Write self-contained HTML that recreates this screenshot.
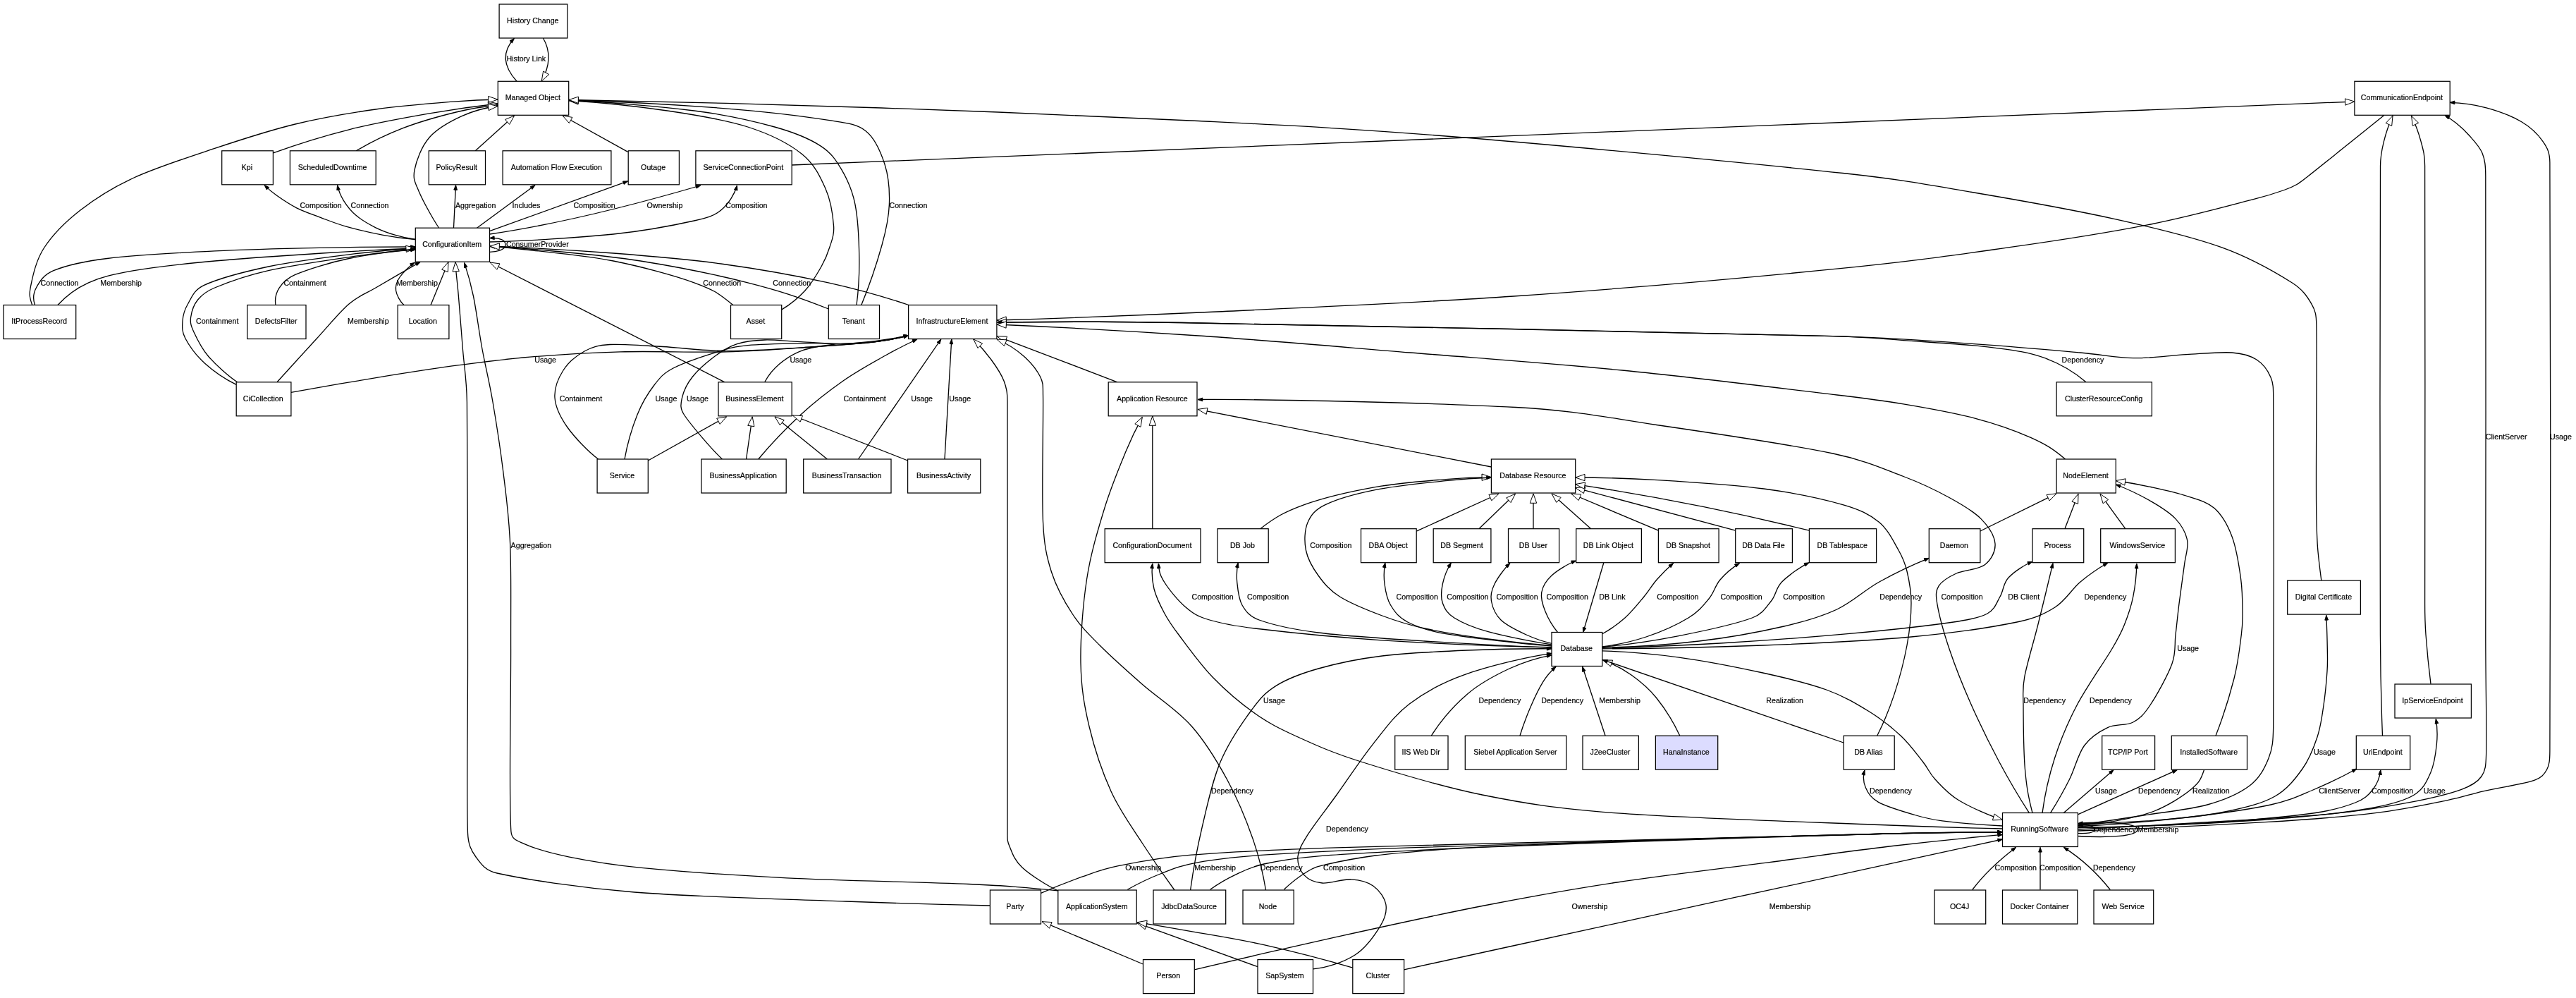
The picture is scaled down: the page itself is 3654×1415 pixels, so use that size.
<!DOCTYPE html><html><head><meta charset="utf-8"><title>Class Model</title><style>html,body{margin:0;padding:0;background:#fff}svg{display:block}text{font-family:"Liberation Sans",sans-serif;font-size:10.67px;fill:#000;stroke:#000;stroke-width:0.2px}</style></head><body>
<svg width="3654" height="1415" viewBox="0 0 3654 1415">
<rect width="3654" height="1415" fill="#fff"/>
<g fill="none" stroke="#000" stroke-width="1.3">
<path d="M45.7,432.5C41.5,420.6 41.2,416.9 43.8,404.6C46.6,391 51.1,368.8 62.8,351C74.5,333.2 92.8,314.5 114,298C135.2,281.5 158.2,266.6 190,252C221.8,237.4 266.5,223.1 304.6,210.4C342.7,197.7 380.7,185.2 418.8,176C456.9,166.8 495,160.4 533,155C571,149.6 618.2,146.1 647,143.8C673.5,141.7 679.4,141.4 706,141"/>
<polygon points="706,141 692.7,145.9 692.6,136.5" fill="#fff" stroke-width="1"/>
<path d="M387.6,216.9C423.4,203.8 458.1,193.1 495,183.8C531.9,174.5 573.8,167 609,160.9C644.2,154.8 670.5,151 706,147"/>
<polygon points="706,147 693.3,153.1 692.2,143.9" fill="#fff" stroke-width="1"/>
<path d="M505,214C526.8,201 547.3,191.1 571,181.9C594.7,172.7 624.5,164.5 647,159C669.5,153.5 682.9,151.2 706,149"/>
<polygon points="706,149 693.2,154.9 692.3,145.6" fill="#fff" stroke-width="1"/>
<path d="M622.5,323C614.1,310.8 599.8,284.7 594,271C588.7,258.3 585.5,253.7 588,241C590.5,228.3 597.8,207.7 609,195C620.2,182.3 638.8,172.1 655,164.7C671.2,157.3 688.3,152.5 706,150.5"/>
<polygon points="706,150.5 693.3,156.6 692.2,147.4" fill="#fff" stroke-width="1"/>
<path d="M674,214L729.5,164"/>
<polygon points="729.5,164 722.7,176.4 716.5,169.5" fill="#fff" stroke-width="1"/>
<path d="M890.6,215.4L798,164"/>
<polygon points="798,164 811.9,166.4 807.4,174.5" fill="#fff" stroke-width="1"/>
<path d="M1109,438.9C1120.8,431.8 1132.7,422.1 1142,412C1151.3,401.9 1159.2,388.3 1165,378C1170.8,367.7 1174.1,359.5 1177,350C1179.9,340.5 1183.6,334.1 1182.6,320.8C1181.6,307.1 1178.6,284.6 1171,267.5C1163.4,250.4 1155.4,232.6 1137,218C1118.6,203.4 1092.5,190.2 1060.7,180C1029,169.8 988.8,163.2 946.5,157C904.2,150.8 849.7,145.1 807,142.5"/>
<polygon points="807,142.5 820.6,138.6 820,148" fill="#fff" stroke-width="1"/>
<path d="M1215,432.5C1218.1,408.9 1219.1,390.2 1218.8,366.5C1218.5,342.8 1217.1,310.9 1213,290C1208.9,269.1 1202.2,254.8 1194,240.9C1185.8,227 1179.4,216.8 1163.5,206.6C1147.6,196.4 1128.6,188.3 1098.8,180C1069,171.7 1033.2,163.2 984.6,157C936,150.8 856,144.2 807,142.5"/>
<polygon points="807,142.5 820.5,138.3 820.2,147.6" fill="#fff" stroke-width="1"/>
<path d="M1221.8,432.5C1231.2,409.7 1244.4,371.2 1251,347.5C1257.6,323.8 1260.7,309.1 1261.4,290C1262.1,270.9 1260.6,250.4 1255,233C1249.4,215.6 1241.3,196.1 1228,185.7C1214.7,175.3 1199.5,174.3 1175,170.4C1140.8,165 1084,158 1022.7,153.3C961.4,148.6 868.5,143.7 807,142"/>
<polygon points="807,142 813.7,139.9 813.6,144.5" fill="#000" stroke-width="1"/>
<path d="M3292.8,822.8C3287.3,781.3 3286.6,771.9 3285.8,730C3284.6,669.5 3287,509.9 3285.8,460C3285.5,446.5 3284.6,440.7 3278.8,430.8C3273,420.9 3266.6,410.6 3251,400.8C3229.7,387.4 3192.8,365.7 3151,350.7C3109.2,335.7 3058.5,323.6 3000,310.6C2941.5,297.7 2864.3,283.9 2800,273C2735.7,262.1 2698.1,254.5 2614,245.5C2492.3,232.4 2222.3,206.8 2070,194.5C1917.7,182.2 1836.7,178.4 1700,171.5C1563.3,164.6 1398.8,158 1250,153C1101.2,148 955.9,144.2 807,141.5"/>
<polygon points="807,141.5 820.4,137.1 820.2,146.4" fill="#fff" stroke-width="1"/>
<path d="M1123.2,234L3339.9,144"/>
<polygon points="3339.9,144 3326.8,149.2 3326.4,139.9" fill="#fff" stroke-width="1"/>
<path d="M3381.7,163.4C3364,177.7 3338.1,198.5 3320.3,212.8C3302.5,227.1 3285.4,240.9 3275,249C3267.5,254.8 3263.8,258.1 3258,261.5C3252.2,264.9 3248.4,266.6 3240,269.5C3230.3,272.9 3218.2,277 3200,281.7C3168.5,289.8 3109.2,306.5 3050.9,318C2992.7,329.5 2925.7,340.1 2850.5,350.7C2775.3,361.3 2713,370.6 2600,381.7C2482.8,393.2 2294.7,409.9 2147,420C1999.3,430.1 1836.2,436.8 1714,442.5C1591.8,448.2 1536.2,450.3 1414,454"/>
<polygon points="1414,454 1427.2,448.9 1427.5,458.3" fill="#fff" stroke-width="1"/>
<path d="M2947.3,1170C2978,1165.6 3010.1,1160.8 3040.7,1156C3071.3,1151.2 3105.9,1148 3131,1141C3156.1,1134 3176.5,1125 3191,1114C3205.5,1103 3212.4,1089 3218,1075C3223.6,1061 3224.4,1050.5 3224.7,1030C3225.8,945 3225.3,647.5 3224.7,565C3224.6,551.4 3224.9,544.2 3221,535C3217.1,525.8 3210.2,515.8 3201,510C3191.8,504.2 3182.3,501.2 3166,500C3149.3,498.8 3124.4,501.4 3101,502.7C3077.6,504 3050.9,508.1 3025.8,507.7C3000.8,507.2 2984.5,503 2950.7,500C2913.1,496.6 2858.4,491.5 2800,487.6C2741.6,483.7 2690.1,479 2600,476.6C2416.7,471.7 1897.7,461.3 1700,458C1571.3,455.9 1542.7,455.8 1414,457"/>
<polygon points="1414,457 1427.3,452.2 1427.4,461.5" fill="#fff" stroke-width="1"/>
<path d="M2959,541.7C2940.9,526.4 2922.9,515.9 2900.6,507.7C2878.3,499.5 2858.8,496.8 2825.4,492.6C2792,488.4 2737.6,485.3 2700,482.6C2662.4,479.9 2645.1,477.7 2600,476.6C2433.3,472.5 1897.7,461.3 1700,458C1571.3,455.9 1542.7,455.8 1414,457"/>
<polygon points="1414,457 1420.6,454.6 1420.7,459.3" fill="#000" stroke-width="1"/>
<path d="M2929.6,651C2911.4,635.9 2902,630.1 2880.5,620.4C2859,610.7 2830.5,600.7 2800.4,592.8C2770.3,584.9 2733.4,578.4 2700,572.8C2666.6,567.2 2645.1,564.7 2600,559.3C2533.5,551.3 2400.9,534.9 2301,525C2201.1,515.1 2100.9,508.2 2000.7,500C1900.5,491.8 1797.8,482.7 1700,476C1602.2,469.3 1511.9,464.3 1414,460"/>
<polygon points="1414,460 1427.5,455.9 1427.1,465.2" fill="#fff" stroke-width="1"/>
<path d="M1585,541.8L1414.5,476.8"/>
<polygon points="1414.5,476.8 1428.6,477.2 1425.3,485.9" fill="#fff" stroke-width="1"/>
<path d="M589.3,339.5C572.7,338.2 559.9,336.5 543.5,333.4C527.1,330.3 505.5,325.2 490.9,321.1C476.3,317 467.5,313.2 455.8,308.8C444.1,304.4 431.3,300.1 420.8,294.8C410.3,289.6 400.3,282.7 392.7,277.3C385.1,271.9 381.8,269.2 375.2,262.6"/>
<polygon points="375.2,262.6 381.6,265.6 378.3,269" fill="#000" stroke-width="1"/>
<path d="M589.3,339.5C579.6,338.2 570.4,336.2 561,333.4C551.6,330.6 542.3,327.5 533,322.8C523.7,318.1 512.6,311.7 505,305.3C497.4,298.9 491.8,291.4 487.4,284.3C483,277.2 480.4,270.8 478.6,262.6"/>
<polygon points="478.6,262.6 482.3,268.6 477.8,269.6" fill="#000" stroke-width="1"/>
<path d="M643.5,323L646.5,262.6"/>
<polygon points="646.5,262.6 648.5,269.4 643.8,269.1" fill="#000" stroke-width="1"/>
<path d="M676.5,323.2L759,262.6"/>
<polygon points="759,262.6 755,268.4 752.2,264.7" fill="#000" stroke-width="1"/>
<path d="M694.5,327.7L890.6,256.9"/>
<polygon points="890.6,256.9 885.1,261.4 883.5,257" fill="#000" stroke-width="1"/>
<path d="M694.5,332Q819.9,313.7 993.7,263"/>
<polygon points="993.7,263 988,267.1 986.6,262.6" fill="#000" stroke-width="1"/>
<path d="M694.5,343C743.1,341.9 821.6,337 870,332C918.4,327 959.1,318.7 984.6,313C1002.6,309 1012.6,306.3 1022.7,298C1032.9,289.7 1042,275.7 1045.5,263"/>
<polygon points="1045.5,263 1046,270.1 1041.5,268.8" fill="#000" stroke-width="1"/>
<path d="M49.5,432.5C46.4,423.8 47,416.1 51.4,408C55.8,399.9 61.6,389.6 76,383.7C92.8,376.8 117.2,370.7 152,366.5C190.1,361.9 253.8,358.4 304.6,355.9C355.4,353.4 409.6,352.3 457,351.3C504.4,350.3 541.8,349.9 589.3,350"/>
<polygon points="589.3,350 582.6,352.3 582.6,347.7" fill="#000" stroke-width="1"/>
<path d="M81.9,432.5C95.2,417.9 107.6,408.9 125.6,400.8C143.6,392.7 160.5,388.8 190,383.7C219.8,378.6 260.1,374.1 304.6,370C349.1,365.9 409.6,362 457,359C504.4,356 541.8,354 589.3,352"/>
<polygon points="589.3,352 582.7,354.6 582.5,350" fill="#000" stroke-width="1"/>
<path d="M335.2,545.3C320.6,538.2 302.6,526.1 290.6,515.2C278.6,504.3 268.3,490 263,480C257.7,470 258.4,463.2 259,455C259.6,446.8 261.5,439.4 266.5,431C271.5,422.6 274.8,411.2 289,404.6C308,395.8 346.4,385.3 380.7,378C415,370.7 460.2,365.1 495,360.8C529.8,356.5 554.3,354.2 589.3,352"/>
<polygon points="589.3,352 576.3,357.5 575.7,348.2" fill="#fff" stroke-width="1"/>
<path d="M336.7,541.8C323.6,532.9 306,517.2 295.6,505.2C285.2,493.2 278.8,479.2 274.6,470C270.8,461.6 269.6,457.5 270.6,450C271.6,442.5 274.9,432 280.6,425C286.3,418 292.4,413 304.6,408C321.3,401.1 349,390.9 380.7,383.7C412.4,376.5 460.2,369.7 495,364.6C529.8,359.5 554.3,356.5 589.3,353"/>
<polygon points="589.3,353 582.9,356 582.4,351.3" fill="#000" stroke-width="1"/>
<path d="M391,432.5C389.6,424.1 391.4,415.6 396,408.4C400.6,401.2 406.5,394.6 418.8,389.4C435.3,382.4 466.6,372.4 495,366.5C523.4,360.6 560.3,355.7 589.3,354"/>
<polygon points="589.3,354 582.8,356.7 582.5,352.1" fill="#000" stroke-width="1"/>
<path d="M393,541.8C409.8,523.2 432.3,498.5 449.3,480C466.3,461.5 481.1,443 495,431C508.9,419 516.2,417.9 533,408C549.8,398.1 579,381.2 596,371.5"/>
<polygon points="596,371.5 591.4,376.8 589,372.8" fill="#000" stroke-width="1"/>
<path d="M573,432.5C567.9,428.2 562.6,418.6 561.6,412C560.6,405.4 562.5,399.6 567,393C571.5,386.4 581.7,376.5 588.5,372.3"/>
<polygon points="588.5,372.3 584.1,377.8 581.6,373.8" fill="#000" stroke-width="1"/>
<path d="M611,432.5L636,371.5"/>
<polygon points="636,371.5 635.3,385.6 626.6,382.1" fill="#fff" stroke-width="1"/>
<path d="M1404.4,1284C1320.3,1282.2 1284.1,1281.2 1200,1278C1115.9,1274.8 982.5,1271.7 900,1265C817.5,1258.3 742.5,1246.3 705,1238C688.4,1234.3 681.9,1224.5 675,1215C668.1,1205.5 664.1,1197.1 663.5,1181C661.6,1131.8 663.7,1021.8 663.5,920C663.3,818.2 663.6,640.8 662.4,570C661.8,536.1 658.4,520 656.4,495C654.4,470 652,438.2 650.4,420C649.1,404.5 647.7,393.7 647,385.6C646.4,379.3 646.3,377.9 646,371.5"/>
<polygon points="646,371.5 651.3,384.6 642,385.1" fill="#fff" stroke-width="1"/>
<path d="M1500.6,1262.8C1443.8,1257.1 1431.1,1256.2 1374,1253.5C1309.9,1250.5 1193.4,1248.7 1116,1244.8C1038.6,1240.9 961.3,1235.3 909.7,1230.3C862.9,1225.8 833.9,1220.4 806.4,1214.8C778.9,1209.2 758.1,1202.8 744.5,1196.8C733.5,1191.9 725.8,1190.7 724.9,1178.7C721.6,1132.6 724.8,988 724.6,920C724.4,852.9 725.4,812.4 723.6,770.8C721.8,729.2 718.1,704.1 714,670.6C709.9,637.1 704,599.3 699,570C694,540.7 688.6,520 684,495C679.4,470 675.7,440.4 671.5,420C667.3,399.6 665.3,392.3 658.7,372.6"/>
<polygon points="658.7,372.6 663,378.2 658.6,379.7" fill="#000" stroke-width="1"/>
<path d="M1028,541.8L695,372"/>
<polygon points="695,372 709,373.9 704.8,382.2" fill="#fff" stroke-width="1"/>
<path d="M1039.8,432.5C1017.7,414.3 1011.5,410.7 984.6,400.8C956.3,390.4 908.1,377.6 870,370C831.9,362.4 785.2,358.4 756,355C728.6,351.8 722.5,351.2 695,349.4"/>
<polygon points="695,349.4 701.8,347.5 701.5,352.2" fill="#000" stroke-width="1"/>
<path d="M1175.3,438C1132.7,421.1 1105.2,412.1 1060.7,400.8C1016.2,389.5 956.1,377.6 908.5,370C860.9,362.4 810.6,358.4 775,355C739.4,351.6 730.7,351 695,349.4"/>
<polygon points="695,349.4 701.8,347.4 701.6,352" fill="#000" stroke-width="1"/>
<path d="M1289,432.5C1246,417.9 1219.4,410.6 1175,400.8C1130.6,391.1 1073.5,381 1022.7,374C971.9,367 924.6,363.2 870,359C815.4,354.8 749.7,351.1 695,349"/>
<polygon points="695,349 708.5,344.8 708.1,354.2" fill="#fff" stroke-width="1"/>
<path d="M412.9,556.3C452.5,549.2 511.2,539.1 551,532.7C590.8,526.3 617.9,522.1 651.4,517.7C684.9,513.3 713.6,509.4 751.7,506.2C789.8,503 833.5,500 880,498.8C926.5,497.6 985.5,499.9 1030.6,498.8C1075.7,497.7 1115.7,494.4 1150.8,492C1185.9,489.6 1218,487.3 1241,484.6C1262.6,482 1267.5,481.1 1288.6,475.6"/>
<polygon points="1288.6,475.6 1282.7,479.5 1281.6,475" fill="#000" stroke-width="1"/>
<path d="M848.7,651C834.5,640.3 815.3,620.5 805,606C794.7,591.5 788,577.5 787,564C786,550.5 792,536 799,525C806,514 818,504.1 829,498C840,491.9 848.3,489.5 865,488.5C883.5,487.4 912.4,490 940,491.5C967.6,493 995.5,497.5 1030.6,497.6C1065.7,497.7 1115.7,494.2 1150.8,492C1185.9,489.8 1218,487.3 1241,484.6C1262.6,482 1267.5,481.1 1288.6,475.6"/>
<polygon points="1288.6,475.6 1282.7,479.5 1281.6,475" fill="#000" stroke-width="1"/>
<path d="M886,651C889.3,632.4 897,605.5 904,588C911,570.5 919.5,557 928,546C936.5,535 940.6,529.6 955,522C969.6,514.3 997.9,505.1 1015.5,499.7C1033.1,494.3 1039.9,491.7 1060.6,489.7C1083.1,487.5 1125.7,487.2 1150.8,486.7C1175.9,486.2 1188,488.6 1211,486.7C1234,484.8 1266,480.3 1288.6,475.6"/>
<polygon points="1288.6,475.6 1282.5,479.2 1281.6,474.7" fill="#000" stroke-width="1"/>
<path d="M1024.5,651C1011.7,639.4 979.9,602.5 970.4,588C964.5,579 965.4,573.3 967.4,564.3C969.4,555.3 974.5,544 982.5,534C990.5,524 1005,511.7 1015.5,504C1026,496.3 1034.1,491.3 1045.6,487.6C1057.1,483.9 1069.7,482.5 1084.7,482C1099.7,481.5 1114.8,483.7 1135.8,484.6C1156.8,485.5 1185.5,489.1 1211,487.6C1236.5,486.1 1263.9,481.9 1288.6,475.6"/>
<polygon points="1288.6,475.6 1282.7,479.5 1281.6,475" fill="#000" stroke-width="1"/>
<path d="M1084.7,541.8C1090.2,531.4 1096.7,523.5 1105.7,516C1114.7,508.5 1126.2,501.3 1138.8,496.7C1151.3,492.1 1164,490.5 1181,488.5C1198,486.5 1223.1,486.8 1241,484.6C1258.9,482.5 1271.1,480.1 1288.6,475.6"/>
<polygon points="1288.6,475.6 1282.7,479.5 1281.6,475" fill="#000" stroke-width="1"/>
<path d="M1075.7,651C1093.2,630.1 1115.8,606.5 1135.8,588C1155.8,569.5 1176,554 1196,540C1216,526 1238.5,513.8 1256,504C1273.5,494.2 1282.8,489.4 1301,481"/>
<polygon points="1301,481 1295.9,485.9 1294,481.7" fill="#000" stroke-width="1"/>
<path d="M1217.5,651L1334.8,481"/>
<polygon points="1334.8,481 1332.9,487.8 1329.1,485.2" fill="#000" stroke-width="1"/>
<path d="M1340,651L1349.8,481"/>
<polygon points="1349.8,481 1351.7,487.8 1347.1,487.5" fill="#000" stroke-width="1"/>
<path d="M919.3,653L1030.6,590.8"/>
<polygon points="1030.6,590.8 1021.2,601.4 1016.7,593.2" fill="#fff" stroke-width="1"/>
<path d="M1058.5,651L1067.2,590.8"/>
<polygon points="1067.2,590.8 1069.9,604.7 1060.7,603.3" fill="#fff" stroke-width="1"/>
<path d="M1173.4,651L1099,590.8"/>
<polygon points="1099,590.8 1112.3,595.6 1106.4,602.8" fill="#fff" stroke-width="1"/>
<path d="M1287.6,653L1124.4,589"/>
<polygon points="1124.4,589 1138.5,589.5 1135.1,598.2" fill="#fff" stroke-width="1"/>
<path d="M1500.8,1262.8C1486.5,1256.7 1461.5,1240.5 1450,1230C1438.5,1219.5 1435.5,1208.2 1432,1200C1428.6,1192 1429,1189.7 1429,1181C1428.5,1076 1429.8,676.8 1429,570C1428.9,556.3 1427.8,550 1424,540C1420.2,530 1413.2,519.8 1406,510C1398.8,500.2 1389.5,489.5 1380.8,481"/>
<polygon points="1380.8,481 1393.6,487 1387.1,493.6" fill="#fff" stroke-width="1"/>
<path d="M1795.5,1262C1791.1,1234.8 1786.1,1215 1777,1189C1767.9,1163 1755.5,1132.7 1741,1106C1726.5,1079.3 1709.9,1051.7 1689.7,1029C1669.5,1006.3 1641.6,989 1620,970C1598.4,951 1576.4,931.5 1560,915C1543.6,898.5 1533,888.3 1521.6,871C1510.2,853.7 1498.5,832.8 1491.5,811C1484.5,789.2 1481,772.4 1479.5,740C1477.5,698.2 1480.2,594.3 1479.5,560C1479.3,548.2 1480.2,543.3 1475.5,534C1470.8,524.7 1461.2,512.8 1451,504C1440.8,495.2 1426.5,486.3 1414,481"/>
<polygon points="1414,481 1428.1,481.9 1424.5,490.5" fill="#fff" stroke-width="1"/>
<path d="M1666,1262C1649.6,1239.6 1635,1218.3 1620,1195C1605,1171.7 1588.5,1149.5 1576,1122C1563.5,1094.5 1552.2,1060.3 1545,1030C1537.8,999.7 1533.6,974.8 1533,940C1532.4,905.2 1536,857.5 1541.6,821C1547.2,784.5 1557.5,750.8 1566.7,720.7C1575.9,690.6 1587.9,662 1596.8,640.5C1605.7,619 1609.1,611.9 1620.3,591.4"/>
<polygon points="1620.3,591.4 1618,605.3 1609.8,600.9" fill="#fff" stroke-width="1"/>
<path d="M1634.8,749.7L1634.8,590"/>
<polygon points="1634.8,590 1639.5,603.3 1630.1,603.3" fill="#fff" stroke-width="1"/>
<path d="M2115.4,662L1699,580.4"/>
<polygon points="1699,580.4 1713,578.4 1711.2,587.5" fill="#fff" stroke-width="1"/>
<path d="M2878.4,1152.7C2862.4,1127.9 2849.6,1106 2835.7,1080C2821.8,1054 2806.8,1023.2 2795,996.5C2783.2,969.8 2772.9,943.5 2765,920C2757.1,896.5 2750.3,870.7 2747.8,855.8C2745.9,844.7 2745.5,837.9 2750,830.8C2754.5,823.7 2764.1,818 2775,813C2785.9,808 2806.2,807.8 2815.4,800.7C2824.6,793.7 2830.9,781.6 2830,770.7C2829.1,759.9 2820.8,746.5 2810,735.6C2799.2,724.7 2783.3,715.5 2765,705.5C2746.7,695.5 2727.5,685.9 2700,675.5C2672.5,665.1 2646.3,652.7 2600,643C2541.7,630.8 2425,613.4 2350,602.5C2275,591.6 2240.6,582.5 2150,577.5C2041.5,571.5 1807.7,565.8 1699,566.5"/>
<polygon points="1699,566.5 1705.7,564.1 1705.7,568.8" fill="#000" stroke-width="1"/>
<path d="M1787.7,749.7C1810.6,732.2 1822.9,725.5 1850,715.6C1877.1,705.8 1917,696.6 1950.5,690.6C1984,684.6 2023.3,681.9 2050.8,679.6C2078.3,677.3 2087.8,676.8 2115.4,676.6"/>
<polygon points="2115.4,676.6 2102.1,681.4 2102,672" fill="#fff" stroke-width="1"/>
<path d="M2201,915.3C2170.8,913.1 2141.1,910 2111,906C2080.9,902 2045.8,896.5 2020.7,891C1995.6,885.5 1980.6,880.5 1960.6,873C1940.6,865.5 1915.6,855.5 1900.5,846C1885.4,836.5 1878,827 1870,816C1862,805 1854.9,792.5 1852.4,780C1849.9,767.5 1850.4,751.4 1855,740.7C1859.6,730 1865.6,722.5 1880,715.6C1895.9,707.9 1922,700.3 1950.5,694.6C1979,688.9 2023.3,684.5 2050.8,681.6C2078.3,678.7 2087.8,678 2115.4,677"/>
<polygon points="2115.4,677 2108.8,679.6 2108.7,674.9" fill="#000" stroke-width="1"/>
<path d="M2009.2,753.2L2126,700"/>
<polygon points="2126,700 2115.8,709.8 2111.9,701.3" fill="#fff" stroke-width="1"/>
<path d="M2097.9,749.7L2149.5,700"/>
<polygon points="2149.5,700 2143.1,712.6 2136.7,705.9" fill="#fff" stroke-width="1"/>
<path d="M2175,749.7L2175,700"/>
<polygon points="2175,700 2179.7,713.3 2170.3,713.3" fill="#fff" stroke-width="1"/>
<path d="M2256.7,749.7L2201,700"/>
<polygon points="2201,700 2214.1,705.4 2207.8,712.4" fill="#fff" stroke-width="1"/>
<path d="M2352.4,752.2L2228.7,700"/>
<polygon points="2228.7,700 2242.8,700.9 2239.2,709.5" fill="#fff" stroke-width="1"/>
<path d="M2461.7,752.2L2234.7,691.6"/>
<polygon points="2234.7,691.6 2248.8,690.5 2246.4,699.5" fill="#fff" stroke-width="1"/>
<path d="M2566.4,752.2Q2402.4,711.8 2234.7,686.6"/>
<polygon points="2234.7,686.6 2248.6,684 2247.2,693.2" fill="#fff" stroke-width="1"/>
<path d="M2662.8,1043C2672.9,1022.9 2680,1005.7 2687,984.4C2694,963.1 2701,936.6 2705,915C2709,893.4 2711,872.5 2711,855C2711,837.5 2708,822.5 2705,810C2702,797.5 2699.7,791.7 2693,780C2686.3,768.3 2678.2,750.7 2665,740C2651.8,729.3 2638.4,722.6 2614,715.6C2586.8,707.8 2545.6,698.8 2501.8,693C2458,687.2 2395.9,683.3 2351.4,680.6C2306.9,677.9 2279.3,677.1 2234.7,677"/>
<polygon points="2234.7,677 2248,672.4 2248,681.7" fill="#fff" stroke-width="1"/>
<path d="M2201,918.3C2145.8,916.2 2075.9,912.5 2020.7,909C1965.5,905.5 1909.1,902 1870,897C1831.7,892.1 1804,885.5 1786,879C1772.5,874.1 1767.2,867 1762,858C1756.8,849 1755.7,835 1754.7,825C1753.7,815 1754.1,807.8 1756.2,798"/>
<polygon points="1756.2,798 1757.1,805 1752.5,804" fill="#000" stroke-width="1"/>
<path d="M2201,917.7C2130.7,916.4 2030.8,912.2 1960.6,907.8C1890.4,903.3 1821.1,895.9 1780,891C1750,887.4 1730.3,883.5 1714,878.5C1698.3,873.7 1692.3,869.8 1682,861C1671.7,852.2 1658.4,836.3 1652,826C1645.6,815.7 1644.1,811.2 1643.4,799"/>
<polygon points="1643.4,799 1646.1,805.5 1641.5,805.8" fill="#000" stroke-width="1"/>
<path d="M2840.5,1175C2768.3,1173.4 2752.2,1172.9 2680,1170C2588.9,1166.3 2390.2,1160.1 2294,1152.9C2207.3,1146.4 2163.1,1139.2 2102.5,1127C2041.9,1114.8 1974.3,1093.8 1930.6,1080C1888.8,1066.9 1865.1,1055.9 1840,1044.5C1814.9,1033.1 1800,1025.6 1780,1011.5C1760,997.4 1738,978.6 1720,960C1702,941.4 1683.3,915 1672,900C1662.2,887.1 1657.8,880.8 1652,870C1646.2,859.2 1639.9,846.8 1637,835C1634.1,823.2 1633.4,811.1 1634.8,799"/>
<polygon points="1634.8,799 1636.3,805.9 1631.7,805.4" fill="#000" stroke-width="1"/>
<path d="M2201,916C2166.6,913.8 2084.9,904.4 2050.8,898.7C2025.7,894.5 2009.7,888.8 1996.7,882C1983.7,875.2 1978,867 1972.6,858C1967.1,849 1965.3,838 1964,828C1962.7,818 1963,807.9 1964.8,798"/>
<polygon points="1964.8,798 1965.9,805 1961.3,804.1" fill="#000" stroke-width="1"/>
<path d="M2201,913.8C2177.3,910.7 2134,902 2111,895.7C2088.4,889.5 2073.6,882.8 2062.8,876C2052.6,869.6 2049.1,863 2046.3,855C2043.5,847 2044.3,837.5 2046.3,828C2048.3,818.5 2053.2,806.3 2058.3,798"/>
<polygon points="2058.3,798 2056.8,804.9 2052.8,802.4" fill="#000" stroke-width="1"/>
<path d="M2201,912.3C2188.1,909.3 2177,905.5 2165,900C2153,894.5 2137.3,887 2129,879C2120.7,871 2116.9,860.5 2115.4,852C2113.9,843.5 2115.6,836.9 2120,828C2124.4,819.1 2134.6,805.4 2141.9,798.6"/>
<polygon points="2141.9,798.6 2138.6,804.9 2135.4,801.4" fill="#000" stroke-width="1"/>
<path d="M2209.5,896.5C2203.1,888.7 2195.8,876.4 2192,867C2188.2,857.6 2185.2,848.5 2186.7,840C2188.2,831.5 2192.8,823.5 2201,816C2209.2,808.5 2225.3,798.8 2235.7,795"/>
<polygon points="2235.7,795 2230.2,799.5 2228.6,795.1" fill="#000" stroke-width="1"/>
<path d="M2274.8,798L2245.6,896.5"/>
<polygon points="2245.6,896.5 2245.3,889.4 2249.7,890.8" fill="#000" stroke-width="1"/>
<path d="M2272.8,898.7C2284.4,892.4 2295.1,884.8 2305,876C2314.9,867.2 2324.5,855 2332,846C2339.5,837 2343.1,829.9 2350,822C2356.9,814.1 2365.6,805.5 2373.6,798.6"/>
<polygon points="2373.6,798.6 2370.1,804.7 2367,801.2" fill="#000" stroke-width="1"/>
<path d="M2272.8,916.8C2294.1,914.3 2314.6,909.8 2335,903C2355.4,896.2 2380.2,885 2395,876C2409.8,867 2416.5,858 2424,849C2431.5,840 2432.8,830.4 2440,822C2447.2,813.6 2458,804.4 2467.4,798.6"/>
<polygon points="2467.4,798.6 2463,804.1 2460.5,800.1" fill="#000" stroke-width="1"/>
<path d="M2272.8,917.5C2308.7,914 2344.6,908.7 2380,901.8C2415.4,894.9 2463.4,884.3 2485.5,876C2500.7,870.3 2505.5,860.5 2512.5,852C2519.5,843.5 2518.7,834 2527.6,825C2536.5,816 2554.5,803.2 2566,797.8"/>
<polygon points="2566,797.8 2561,802.8 2559,798.5" fill="#000" stroke-width="1"/>
<path d="M2272.8,918.3C2316.1,917.5 2367,914 2410,909C2453,904 2498,895.5 2530.6,888C2563.2,880.5 2583.2,874.5 2605.7,864C2628.2,853.5 2644,837.1 2665.8,825C2687.6,812.9 2713.2,800.7 2736.3,791.4"/>
<polygon points="2736.3,791.4 2731,796.1 2729.2,791.7" fill="#000" stroke-width="1"/>
<path d="M2272.8,919C2330.9,917.5 2382,915.4 2440,912C2498,908.6 2565.5,903.7 2620.7,898.7C2675.9,893.7 2737.9,886.8 2771,882C2793,878.8 2808,876 2819,870C2830,864 2832,854.5 2837,846C2842,837.5 2841.3,827.2 2849,819C2856.7,810.8 2872.4,800.3 2883,796.5"/>
<polygon points="2883,796.5 2877.5,801 2875.9,796.6" fill="#000" stroke-width="1"/>
<path d="M2272.8,919.8C2345.9,919.5 2427.5,917.8 2500.5,915C2573.5,912.2 2650.9,908.5 2711,903C2771.1,897.5 2827,889 2861,882C2886.5,876.7 2900,870.5 2915,861C2930,851.5 2938.5,835.5 2951,825C2963.5,814.5 2975.8,806 2990,798"/>
<polygon points="2990,798 2985.3,803.3 2983,799.2" fill="#000" stroke-width="1"/>
<path d="M2272.8,922.8C2311.1,924 2342.1,926.6 2380,931.8C2417.9,937 2465.4,946.3 2500.5,954C2535.6,961.7 2565.6,968.9 2590.7,978C2615.8,987.1 2633.2,997.7 2650.8,1008.5C2668.4,1019.3 2683.2,1031.1 2696,1043C2708.8,1054.9 2719.3,1069.7 2727.5,1080C2735.7,1090.3 2736.4,1095.8 2745,1105C2753.6,1114.2 2763.1,1125.5 2779,1135C2794.9,1144.5 2822.7,1156.9 2840.5,1162.3"/>
<polygon points="2840.5,1162.3 2826.4,1162.9 2829.1,1154" fill="#fff" stroke-width="1"/>
<path d="M2030.4,1043C2043.4,1022.5 2062.6,1000.2 2081,984.4C2099.4,968.6 2121,957.3 2141,948C2161,938.7 2179.3,932.9 2201,928.8"/>
<polygon points="2201,928.8 2194.9,932.3 2194,927.7" fill="#000" stroke-width="1"/>
<path d="M2156,1043C2160.1,1029.7 2165.5,1015.3 2171,1002.5C2176.5,989.7 2183,975.9 2189,966.4C2195,956.9 2198.5,952.7 2207,945.3"/>
<polygon points="2207,945.3 2203.5,951.5 2200.4,947.9" fill="#000" stroke-width="1"/>
<path d="M2277,1043L2244.7,945.3"/>
<polygon points="2244.7,945.3 2249,950.9 2244.6,952.4" fill="#000" stroke-width="1"/>
<path d="M2382.7,1043C2375,1026.3 2361.4,1004.3 2350,990C2338.6,975.7 2326.8,966 2314,957C2301.2,948 2288.2,941.2 2273.5,936"/>
<polygon points="2273.5,936 2287.6,936.1 2284.5,944.9" fill="#fff" stroke-width="1"/>
<path d="M2615,1053L2273.5,935.5"/>
<polygon points="2273.5,935.5 2280.6,935.5 2279,939.9" fill="#000" stroke-width="1"/>
<path d="M1862.6,1373.8C1881.4,1372.4 1906.1,1364.2 1922,1354C1937.9,1343.8 1950.7,1324.9 1958,1312.9C1965.3,1300.9 1967.5,1291.5 1965.8,1282C1964.1,1272.5 1955.9,1261.9 1947.7,1256C1939.5,1250.1 1928.7,1247.5 1916.7,1246.8C1904.7,1246.1 1886.7,1253 1875.5,1252C1864.3,1251 1855.5,1246.8 1849.7,1240.6C1843.9,1234.4 1840.1,1224.2 1840.9,1214.8C1841.8,1205.3 1846.7,1196.8 1854.8,1183.9C1864,1169.3 1880.5,1148.5 1896,1127C1911.5,1105.5 1930.5,1076.3 1947.7,1054.8C1964.9,1033.3 1977.8,1014.3 1999.3,998C2020.8,981.7 2043.1,968.7 2076.7,956.8C2110.3,944.9 2165.7,931.3 2201,926.4"/>
<polygon points="2201,926.4 2194.7,929.6 2194.1,925" fill="#000" stroke-width="1"/>
<path d="M1688.6,1262C1692.8,1231.2 1697.9,1203.7 1705,1173.5C1712.1,1143.3 1719.5,1108.1 1731,1080.6C1742.5,1053.1 1760.8,1026.5 1774,1008.5C1787.2,990.5 1794,982.5 1810,972.4C1826,962.3 1844.9,955.1 1870,948C1895.1,940.9 1925.4,934.3 1960.6,930C1995.8,925.7 2040.9,923.7 2081,922C2121.1,920.3 2160.9,919.6 2201,919.8"/>
<polygon points="2201,919.8 2194.3,922.1 2194.3,917.4" fill="#000" stroke-width="1"/>
<path d="M2808.9,753L2917,699.8"/>
<polygon points="2917,699.8 2907.1,709.9 2903,701.5" fill="#fff" stroke-width="1"/>
<path d="M2929,749.6L2948,700.3"/>
<polygon points="2948,700.3 2947.6,714.4 2938.9,711.1" fill="#fff" stroke-width="1"/>
<path d="M3014.8,749.6L2979,700.3"/>
<polygon points="2979,700.3 2990.6,708.3 2983.1,713.8" fill="#fff" stroke-width="1"/>
<path d="M2840.5,1171C2819.6,1170.1 2775.8,1166.4 2755,1163.8C2737.2,1161.6 2731.1,1159.9 2716,1155.5C2700.9,1151.1 2676.1,1143.9 2664.5,1137.4C2653.7,1131.4 2649.7,1124.4 2646.4,1116.8C2643.1,1109.2 2642.6,1099.9 2644.9,1092"/>
<polygon points="2644.9,1092 2645.3,1099.1 2640.8,1097.7" fill="#000" stroke-width="1"/>
<path d="M2883,1152.7C2876.7,1128 2874.6,1115.5 2872.4,1090C2870.2,1064.5 2870.1,1021.7 2870,1000C2869.9,982 2868.5,977.7 2871.7,960C2875.2,940.8 2884.3,911.9 2891,885C2897.7,858.1 2905.6,825.6 2912,798.6"/>
<polygon points="2912,798.6 2912.7,805.6 2908.2,804.6" fill="#000" stroke-width="1"/>
<path d="M2897,1152.7C2900.5,1126.2 2906.3,1100.5 2914.5,1075C2922.7,1049.5 2932.4,1025.8 2946,1000C2959.6,974.2 2984.6,939 2995.8,920C3004.6,905.1 3008.3,898.3 3013.3,885.9C3018.3,873.5 3022.9,860.2 3025.8,845.8C3028.7,831.3 3030.6,813.9 3030.8,799.2"/>
<polygon points="3030.8,799.2 3033,805.9 3028.4,805.8" fill="#000" stroke-width="1"/>
<path d="M2908.5,1152.7C2918,1137.6 2927.5,1121 2935.5,1105C2943.5,1089 2947.6,1069.2 2956.6,1057C2965.6,1044.8 2978.1,1037.1 2989.6,1031.6C3001.1,1026.1 3015.7,1029.3 3025.7,1024C3035.7,1018.7 3041.3,1012.7 3049.8,1000C3059,986.2 3075,957.7 3081,941C3087,924.3 3084.3,914.2 3086,900C3087.7,885.8 3088.9,872.3 3091,855.8C3093.1,839.2 3096.6,815.7 3098.5,800.7C3100.4,785.7 3104.6,776.6 3102.5,765.7C3100.4,754.9 3094.6,744.8 3086,735.6C3077.4,726.4 3065,718.7 3050.9,710.6C3036.8,702.5 3016.5,692.8 3001.3,687"/>
<polygon points="3001.3,687 3008.4,687.2 3006.7,691.6" fill="#000" stroke-width="1"/>
<path d="M2927,1152.7L2998,1091.7"/>
<polygon points="2998,1091.7 2994.5,1097.8 2991.4,1094.3" fill="#000" stroke-width="1"/>
<path d="M2947.3,1154.8L3088.2,1091.7"/>
<polygon points="3088.2,1091.7 3083.1,1096.6 3081.2,1092.3" fill="#000" stroke-width="1"/>
<path d="M3126.4,1091.7C3121.6,1106.2 3118.8,1110.3 3107,1120C3095.2,1129.7 3074.4,1142.5 3055.8,1150C3037.2,1157.5 3013.8,1161.7 2995.7,1165C2977.6,1168.3 2965.7,1169.5 2947.3,1169.9"/>
<polygon points="2947.3,1169.9 2953.9,1167.4 2954,1172.1" fill="#000" stroke-width="1"/>
<path d="M3143,1043C3152,1020.1 3162.9,985.8 3169,962C3175.1,938.2 3177.3,915.2 3179.3,900C3181,887 3181.1,884 3181,870.9C3180.9,857.7 3181.1,839.2 3178.6,820.8C3176.1,802.4 3172.3,777.4 3166,760.7C3159.7,744 3151.8,730.2 3141,720.6C3130.2,711 3116,708 3101,703C3086,698 3067.5,694.1 3050.9,690.5C3034.3,686.9 3018.1,684 3001.3,681.5"/>
<polygon points="3001.3,681.5 3015.2,678.8 3013.8,688.1" fill="#fff" stroke-width="1"/>
<path d="M2947.3,1168C2983,1167.5 3035.4,1165 3071,1162C3106.6,1159 3135,1155.5 3161,1150C3187,1144.5 3209.5,1139 3227,1129C3244.5,1119 3256,1104 3266,1090C3276,1076 3282,1060 3287,1045C3292,1030 3293.7,1015.6 3296,1000C3298.3,984.4 3300.1,964.9 3301,951.6C3301.9,938.3 3301.5,933.2 3301.3,920C3301.1,906.8 3300.4,885.6 3299.8,872.4"/>
<polygon points="3299.8,872.4 3302.5,879 3297.8,879.2" fill="#000" stroke-width="1"/>
<path d="M2947.3,1172C2993.1,1169.4 3055.4,1164.2 3101,1159C3146.6,1153.8 3191,1147.5 3221,1141C3249,1134.9 3260.7,1128.5 3281,1120C3301.3,1111.5 3323.7,1100.7 3343,1090"/>
<polygon points="3343,1090 3338.3,1095.3 3336,1091.2" fill="#000" stroke-width="1"/>
<path d="M2947.3,1173.5C3003,1172.9 3075.4,1170.2 3131,1166.8C3186.6,1163.4 3246,1157.8 3281,1153C3308.6,1149.2 3326.9,1143.5 3341,1138C3353.7,1133 3359.4,1127.7 3365.4,1120C3371.4,1112.3 3375.8,1101.4 3376.8,1091.7"/>
<polygon points="3376.8,1091.7 3378.4,1098.6 3373.8,1098.1" fill="#000" stroke-width="1"/>
<path d="M2947.6,1173.5C3000.5,1172.7 3056.8,1170.9 3109.6,1168.3C3162.4,1165.7 3221.4,1161.9 3264.4,1158C3307.4,1154.1 3340.9,1150.2 3367.6,1145C3393.9,1139.9 3411.1,1135.2 3424.4,1127C3437.7,1118.8 3442.3,1108 3447.6,1096C3452.9,1084 3455.1,1067.6 3456.4,1054.8C3457.7,1042 3457.4,1031.9 3455.3,1019.2"/>
<polygon points="3455.3,1019.2 3458.7,1025.4 3454.1,1026.2" fill="#000" stroke-width="1"/>
<path d="M2947.3,1176C3008.8,1172.9 3099.6,1167.8 3161,1164C3222.4,1160.2 3273,1157.3 3316,1152.9C3359,1148.5 3389.9,1143 3419.2,1137.4C3448.4,1131.8 3474.7,1125.4 3491.5,1119.3C3505.8,1114.1 3514,1109.2 3519.8,1101C3525.7,1092.8 3526.2,1084.3 3526.6,1070C3527.6,1036.5 3525.9,976.5 3525.8,900C3525.7,763.3 3526.6,363.8 3525.8,250C3525.7,235 3525,226.8 3521,217C3517,207.2 3508.2,198.6 3502,191.5C3495.8,184.4 3489.7,179.1 3484,174.5C3478.3,169.9 3474.4,167.3 3468,163.8"/>
<polygon points="3468,163.8 3475,164.9 3472.8,169" fill="#000" stroke-width="1"/>
<path d="M2947.6,1178C3017.7,1175.7 3142.8,1169.9 3212.8,1165.7C3282.6,1161.5 3324.6,1158.1 3367.6,1152.9C3410.6,1147.8 3445,1140 3470.8,1134.8C3494.3,1130.1 3501.8,1126.6 3522.4,1121.9C3543.1,1117.2 3579.6,1111.6 3594.7,1106.4C3604.8,1102.9 3609,1097.9 3612.7,1091C3616.4,1084.1 3616.8,1076.9 3616.9,1065C3617.6,921.6 3618.6,374.5 3616.9,230.4C3616.7,216.2 3613.6,210 3606.9,200.4C3600.2,190.8 3590.2,180.7 3576.8,172.8C3563.5,164.9 3543.7,157.4 3526.8,152.8C3509.9,148.2 3492.7,145.7 3475.2,145.3"/>
<polygon points="3475.2,145.3 3481.9,143.1 3481.8,147.8" fill="#000" stroke-width="1"/>
<path d="M3379.5,1043C3376.9,978.7 3376.6,964.4 3376.4,900C3375.9,765.4 3375.7,352 3376.5,235.4C3376.6,219.5 3378.6,212.2 3381.5,200.4C3384.4,188.6 3389,175.4 3394,164.3"/>
<polygon points="3394,164.3 3392.7,178.4 3384.2,174.5" fill="#fff" stroke-width="1"/>
<path d="M3448,969.7C3445.6,950.8 3442.4,919 3441,900C3439.6,881 3439.6,875.7 3439.6,855.8C3439.4,745 3440.5,344.6 3439.6,235.4C3439.5,219.5 3437.2,212.2 3434,200.4C3430.8,188.6 3425.9,175.3 3420.6,164.3"/>
<polygon points="3420.6,164.3 3430.6,174.3 3422.2,178.3" fill="#fff" stroke-width="1"/>
<path d="M2797.8,1261.5Q2820,1231.5 2859.5,1201.4"/>
<polygon points="2859.5,1201.4 2855.6,1207.3 2852.8,1203.6" fill="#000" stroke-width="1"/>
<path d="M2894,1261.5L2894,1201.4"/>
<polygon points="2894,1201.4 2896.3,1208.1 2891.7,1208.1" fill="#000" stroke-width="1"/>
<path d="M2993.3,1261.5Q2964.8,1225.5 2927.4,1201.4"/>
<polygon points="2927.4,1201.4 2934.3,1203.1 2931.7,1207" fill="#000" stroke-width="1"/>
<path d="M1476.5,1266.4C1494.2,1258.5 1516.5,1249.7 1534.8,1243.2C1553.1,1236.8 1562.6,1232.5 1586.4,1227.7C1612.2,1222.5 1642.9,1216.1 1689.7,1212.2C1741.3,1207.9 1803.1,1205.1 1896,1201.9C1996.7,1198.5 2163.3,1194.9 2294,1191.6C2424.7,1188.3 2588.9,1184 2680,1182C2752.2,1180.4 2768.3,1180.2 2840.5,1179.8"/>
<polygon points="2840.5,1179.8 2833.8,1182.2 2833.8,1177.5" fill="#000" stroke-width="1"/>
<path d="M1599.3,1261.3C1614.9,1252.4 1631.6,1244.5 1648.4,1238C1665.2,1231.5 1676.1,1226.9 1700,1222.6C1724.1,1218.3 1750.9,1215.1 1792.9,1212.2C1842.8,1208.8 1915.8,1205.2 1999.3,1201.9C2082.8,1198.6 2180.6,1195.9 2294,1192.6C2407.4,1189.3 2588.9,1184.1 2680,1182C2752.2,1180.3 2768.3,1180.1 2840.5,1179.8"/>
<polygon points="2840.5,1179.8 2833.8,1182.2 2833.8,1177.5" fill="#000" stroke-width="1"/>
<path d="M1716.5,1261.3C1728,1253.1 1738.9,1246.6 1751.6,1240.6C1764.3,1234.5 1773.5,1229.4 1792.9,1225C1812.7,1220.5 1835.2,1216.7 1870.3,1213.8C1913.3,1210.2 1980.4,1207 2051,1203.5C2121.6,1200 2189.2,1196.6 2294,1193C2398.8,1189.4 2588.9,1184.2 2680,1182C2752.2,1180.3 2768.3,1180 2840.5,1179.8"/>
<polygon points="2840.5,1179.8 2833.8,1182.2 2833.8,1177.5" fill="#000" stroke-width="1"/>
<path d="M1821.3,1261.3C1829.5,1253.3 1845,1241.4 1854.8,1235.5C1864.6,1229.6 1868.2,1228.8 1880,1226C1896,1222.2 1924.8,1216.5 1951,1213C1977.2,1209.5 2012.2,1206.9 2037,1205C2061.8,1203.1 2071.6,1202.6 2100,1201.4C2142.8,1199.6 2206.7,1196.9 2294,1194C2390.7,1190.8 2588.9,1184.4 2680,1182C2752.2,1180.1 2768.3,1179.9 2840.5,1179.8"/>
<polygon points="2840.5,1179.8 2833.8,1182.1 2833.8,1177.5" fill="#000" stroke-width="1"/>
<path d="M1694.3,1374.8C1762.1,1358.6 1828,1343.5 1896,1328.4C1964,1313.4 2036.2,1297.4 2102.5,1284.5C2168.8,1271.6 2226.1,1261.3 2294,1251C2361.9,1240.7 2445.4,1231.1 2509.7,1222.6C2574,1214.1 2624.9,1206.5 2680,1200C2735.1,1193.5 2785.2,1188.3 2840.5,1183.4"/>
<polygon points="2840.5,1183.4 2834.1,1186.3 2833.7,1181.7" fill="#000" stroke-width="1"/>
<path d="M1991.6,1374.8C2106.3,1349.7 2179.3,1333.8 2294,1308.8C2408.7,1283.8 2588.9,1244.7 2680,1224.9C2752.2,1209.2 2768.3,1205.7 2840.5,1190"/>
<polygon points="2840.5,1190 2834.5,1193.7 2833.5,1189.1" fill="#000" stroke-width="1"/>
<path d="M1621.5,1367L1478,1306.7"/>
<polygon points="1478,1306.7 1492.1,1307.6 1488.5,1316.2" fill="#fff" stroke-width="1"/>
<path d="M1784,1370.7L1613.3,1308.8"/>
<polygon points="1613.3,1308.8 1627.4,1309 1624.2,1317.7" fill="#fff" stroke-width="1"/>
<path d="M1918.8,1372.2C1881.2,1361.2 1831.1,1348.3 1792.9,1339.7C1754.7,1331.1 1719.6,1325.9 1689.7,1320.6C1659.8,1315.3 1643.3,1312.5 1613.3,1307.7"/>
<polygon points="1613.3,1307.7 1627.2,1305.2 1625.7,1314.4" fill="#fff" stroke-width="1"/>
<path d="M733,115.3 C712,92 713,72 729.4,54.5"/>
<polygon points="729.4,54.5 726.5,61 723.1,57.8" fill="#000" stroke-width="1"/>
<path d="M770.4,54 C781,72 781,92 768.2,115"/>
<polygon points="768.2,115 770.6,101.1 778.8,105.6" fill="#fff" stroke-width="1"/>
<path d="M694.5,357.3 C703,357 717,355 717,347 C717,340 708,337.6 700,337.6"/>
<polygon points="694.5,337.6 701,334.9 701.3,339.6" fill="#000" stroke-width="1"/>
<path d="M2947.4,1181.5 C2960,1182 2971,1181 2971,1176 C2971,1170 2960,1169.5 2953,1170"/>
<polygon points="2947.4,1170.5 2953.9,1167.8 2954.2,1172.5" fill="#000" stroke-width="1"/>
<path d="M2947.4,1185.5 C2990,1188 3032,1186 3032,1176 C3032,1166 2975,1165 2953,1167"/>
<polygon points="2947.4,1167.5 2953.9,1164.8 2954.2,1169.5" fill="#000" stroke-width="1"/>
</g>
<g stroke="#000" stroke-width="1.25">
<rect x="708.1" y="6" width="96.7" height="48" fill="#fff"/>
<rect x="706.3" y="115.3" width="100.4" height="48" fill="#fff"/>
<rect x="3339.9" y="115.3" width="135.3" height="48" fill="#fff"/>
<rect x="314.7" y="213.8" width="72.7" height="48" fill="#fff"/>
<rect x="411.4" y="213.8" width="121.8" height="48" fill="#fff"/>
<rect x="608.3" y="213.8" width="80.2" height="48" fill="#fff"/>
<rect x="713.1" y="213.8" width="153.8" height="48" fill="#fff"/>
<rect x="891.2" y="213.8" width="72.2" height="48" fill="#fff"/>
<rect x="986.9" y="213.8" width="136.3" height="48" fill="#fff"/>
<rect x="589.3" y="323.2" width="105.2" height="48" fill="#fff"/>
<rect x="5" y="432.5" width="102.7" height="48" fill="#fff"/>
<rect x="350.8" y="432.5" width="83.2" height="48" fill="#fff"/>
<rect x="564.2" y="432.5" width="72.7" height="48" fill="#fff"/>
<rect x="1036.5" y="432.5" width="72.2" height="48" fill="#fff"/>
<rect x="1175.3" y="432.5" width="72.2" height="48" fill="#fff"/>
<rect x="1288.6" y="432.5" width="125.3" height="48" fill="#fff"/>
<rect x="335.2" y="541.8" width="77.7" height="48" fill="#fff"/>
<rect x="1019" y="541.8" width="104.2" height="48" fill="#fff"/>
<rect x="1572.2" y="541.8" width="125.8" height="48" fill="#fff"/>
<rect x="2917.1" y="541.8" width="135.3" height="48" fill="#fff"/>
<rect x="847.1" y="651" width="72.2" height="48" fill="#fff"/>
<rect x="994.9" y="651" width="120.3" height="48" fill="#fff"/>
<rect x="1139.7" y="651" width="124.3" height="48" fill="#fff"/>
<rect x="1287.6" y="651" width="103.2" height="48" fill="#fff"/>
<rect x="2115.4" y="651" width="119.3" height="48" fill="#fff"/>
<rect x="2917.1" y="651" width="84.2" height="48" fill="#fff"/>
<rect x="1567.2" y="749.7" width="135.8" height="48" fill="#fff"/>
<rect x="1727" y="749.7" width="72.2" height="48" fill="#fff"/>
<rect x="1930.5" y="749.7" width="78.7" height="48" fill="#fff"/>
<rect x="2033.2" y="749.7" width="81.7" height="48" fill="#fff"/>
<rect x="2139.5" y="749.7" width="72.1" height="48" fill="#fff"/>
<rect x="2235.7" y="749.7" width="92.7" height="48" fill="#fff"/>
<rect x="2352.4" y="749.7" width="85.7" height="48" fill="#fff"/>
<rect x="2461.7" y="749.7" width="80.7" height="48" fill="#fff"/>
<rect x="2566.4" y="749.7" width="95.2" height="48" fill="#fff"/>
<rect x="2736.3" y="749.7" width="72.6" height="48" fill="#fff"/>
<rect x="2883" y="749.7" width="72.7" height="48" fill="#fff"/>
<rect x="2979.7" y="749.7" width="105.7" height="48" fill="#fff"/>
<rect x="3244.7" y="823.1" width="103.7" height="48" fill="#fff"/>
<rect x="2201" y="896.5" width="71.8" height="48" fill="#fff"/>
<rect x="3397" y="970" width="108.4" height="48" fill="#fff"/>
<rect x="1978.7" y="1043.2" width="75.3" height="48" fill="#fff"/>
<rect x="2078.3" y="1043.2" width="143.5" height="48" fill="#fff"/>
<rect x="2245" y="1043.2" width="79.4" height="48" fill="#fff"/>
<rect x="2348.4" y="1043.2" width="88.3" height="48" fill="#dcdcff"/>
<rect x="2615.2" y="1043.2" width="72" height="48" fill="#fff"/>
<rect x="2981.7" y="1043.2" width="74.9" height="48" fill="#fff"/>
<rect x="3080.3" y="1043.2" width="107.2" height="48" fill="#fff"/>
<rect x="3342.3" y="1043.2" width="76.4" height="48" fill="#fff"/>
<rect x="2840.5" y="1152.5" width="106.9" height="48" fill="#fff"/>
<rect x="1404.4" y="1262" width="72.1" height="48" fill="#fff"/>
<rect x="1500.8" y="1262" width="111.4" height="48" fill="#fff"/>
<rect x="1636" y="1262" width="102.7" height="48" fill="#fff"/>
<rect x="1763" y="1262" width="72.2" height="48" fill="#fff"/>
<rect x="2744" y="1262" width="72.7" height="48" fill="#fff"/>
<rect x="2840.5" y="1262" width="106.3" height="48" fill="#fff"/>
<rect x="2970" y="1262" width="84.7" height="48" fill="#fff"/>
<rect x="1621.5" y="1360.6" width="72.8" height="48" fill="#fff"/>
<rect x="1784" y="1360.6" width="78.5" height="48" fill="#fff"/>
<rect x="1918.8" y="1360.6" width="72.8" height="48" fill="#fff"/>
</g>
<g text-anchor="middle" style="filter:grayscale(1)">
<text x="755.8" y="32.8">History Change</text>
<text x="755.8" y="142.1">Managed Object</text>
<text x="3406.9" y="142.1">CommunicationEndpoint</text>
<text x="350.3" y="240.6">Kpi</text>
<text x="471.6" y="240.6">ScheduledDowntime</text>
<text x="647.7" y="240.6">PolicyResult</text>
<text x="789.3" y="240.6">Automation Flow Execution</text>
<text x="926.6" y="240.6">Outage</text>
<text x="1054.3" y="240.6">ServiceConnectionPoint</text>
<text x="641.2" y="350">ConfigurationItem</text>
<text x="55.6" y="459.3">ItProcessRecord</text>
<text x="391.7" y="459.3">DefectsFilter</text>
<text x="599.8" y="459.3">Location</text>
<text x="1071.9" y="459.3">Asset</text>
<text x="1210.7" y="459.3">Tenant</text>
<text x="1350.5" y="459.3">InfrastructureElement</text>
<text x="373.3" y="568.6">CiCollection</text>
<text x="1070.4" y="568.6">BusinessElement</text>
<text x="1634.4" y="568.6">Application Resource</text>
<text x="2984.1" y="568.6">ClusterResourceConfig</text>
<text x="882.5" y="677.8">Service</text>
<text x="1054.3" y="677.8">BusinessApplication</text>
<text x="1201.1" y="677.8">BusinessTransaction</text>
<text x="1338.5" y="677.8">BusinessActivity</text>
<text x="2174.4" y="677.8">Database Resource</text>
<text x="2958.5" y="677.8">NodeElement</text>
<text x="1634.4" y="776.5">ConfigurationDocument</text>
<text x="1762.4" y="776.5">DB Job</text>
<text x="1969.1" y="776.5">DBA Object</text>
<text x="2073.4" y="776.5">DB Segment</text>
<text x="2174.9" y="776.5">DB User</text>
<text x="2281.4" y="776.5">DB Link Object</text>
<text x="2394.6" y="776.5">DB Snapshot</text>
<text x="2501.4" y="776.5">DB Data File</text>
<text x="2613.3" y="776.5">DB Tablespace</text>
<text x="2771.9" y="776.5">Daemon</text>
<text x="2918.7" y="776.5">Process</text>
<text x="3031.9" y="776.5">WindowsService</text>
<text x="3295.9" y="849.9">Digital Certificate</text>
<text x="2236.2" y="923.3">Database</text>
<text x="3450.5" y="996.8">IpServiceEndpoint</text>
<text x="2015.6" y="1070">IIS Web Dir</text>
<text x="2149.4" y="1070">Siebel Application Server</text>
<text x="2284" y="1070">J2eeCluster</text>
<text x="2391.9" y="1070">HanaInstance</text>
<text x="2650.5" y="1070">DB Alias</text>
<text x="3018.4" y="1070">TCP/IP Port</text>
<text x="3133.2" y="1070">InstalledSoftware</text>
<text x="3379.8" y="1070">UriEndpoint</text>
<text x="2893.2" y="1179.3">RunningSoftware</text>
<text x="1439.8" y="1288.8">Party</text>
<text x="1555.8" y="1288.8">ApplicationSystem</text>
<text x="1686.6" y="1288.8">JdbcDataSource</text>
<text x="1798.4" y="1288.8">Node</text>
<text x="2779.7" y="1288.8">OC4J</text>
<text x="2893" y="1288.8">Docker Container</text>
<text x="3011.7" y="1288.8">Web Service</text>
<text x="1657.2" y="1387.4">Person</text>
<text x="1822.5" y="1387.4">SapSystem</text>
<text x="1954.5" y="1387.4">Cluster</text>
</g>
<g style="filter:grayscale(1)">
<text x="718.5" y="86.6">History Link</text>
<text x="425.4" y="294.6">Composition</text>
<text x="497.6" y="294.6">Connection</text>
<text x="646" y="294.6">Aggregation</text>
<text x="726.6" y="294.6">Includes</text>
<text x="813.4" y="294.6">Composition</text>
<text x="917.4" y="294.6">Ownership</text>
<text x="1029.3" y="294.6">Composition</text>
<text x="1261.5" y="294.6">Connection</text>
<text x="718" y="349.9">ConsumerProvider</text>
<text x="57.6" y="404.8">Connection</text>
<text x="142.3" y="404.8">Membership</text>
<text x="402.4" y="404.8">Containment</text>
<text x="562.2" y="404.8">Membership</text>
<text x="997.3" y="404.8">Connection</text>
<text x="1096.3" y="404.8">Connection</text>
<text x="278" y="458.9">Containment</text>
<text x="493" y="458.9">Membership</text>
<text x="758.2" y="513.8">Usage</text>
<text x="1120.4" y="513.8">Usage</text>
<text x="2924.6" y="513.8">Dependency</text>
<text x="793.7" y="568.9">Containment</text>
<text x="929.6" y="568.9">Usage</text>
<text x="974.1" y="568.9">Usage</text>
<text x="1196.4" y="568.9">Containment</text>
<text x="1292.2" y="568.9">Usage</text>
<text x="1346.3" y="568.9">Usage</text>
<text x="3525.8" y="623">ClientServer</text>
<text x="3617" y="623">Usage</text>
<text x="724.6" y="776.9">Aggregation</text>
<text x="1858.3" y="776.9">Composition</text>
<text x="1690.5" y="850">Composition</text>
<text x="1769" y="850">Composition</text>
<text x="1980.6" y="850">Composition</text>
<text x="2052.3" y="850">Composition</text>
<text x="2122.4" y="850">Composition</text>
<text x="2193.6" y="850">Composition</text>
<text x="2268.3" y="850">DB Link</text>
<text x="2350.3" y="850">Composition</text>
<text x="2440.5" y="850">Composition</text>
<text x="2529.3" y="850">Composition</text>
<text x="2666.2" y="850">Dependency</text>
<text x="2753.4" y="850">Composition</text>
<text x="2848.2" y="850">DB Client</text>
<text x="2956.4" y="850">Dependency</text>
<text x="3088.2" y="922.9">Usage</text>
<text x="1792" y="996.8">Usage</text>
<text x="2097.4" y="996.8">Dependency</text>
<text x="2186.2" y="996.8">Dependency</text>
<text x="2268.3" y="996.8">Membership</text>
<text x="2505.3" y="996.8">Realization</text>
<text x="2870.2" y="996.8">Dependency</text>
<text x="2964.1" y="996.8">Dependency</text>
<text x="3282" y="1069.8">Usage</text>
<text x="1718" y="1124.6">Dependency</text>
<text x="2652" y="1124.6">Dependency</text>
<text x="2972" y="1124.6">Usage</text>
<text x="3033" y="1124.6">Dependency</text>
<text x="3110" y="1124.6">Realization</text>
<text x="3289.2" y="1124.6">ClientServer</text>
<text x="3364" y="1124.6">Composition</text>
<text x="3437.8" y="1124.6">Usage</text>
<text x="1881.1" y="1178.8">Dependency</text>
<text x="2970" y="1179.6">Dependency</text>
<text x="3031.7" y="1179.6">Membership</text>
<text x="1596.2" y="1234.3">Ownership</text>
<text x="1694.3" y="1234.3">Membership</text>
<text x="1787.7" y="1234.3">Dependency</text>
<text x="1877" y="1234.3">Composition</text>
<text x="2829.6" y="1234.4">Composition</text>
<text x="2893" y="1234.4">Composition</text>
<text x="2969" y="1234.4">Dependency</text>
<text x="2229.5" y="1288.6">Ownership</text>
<text x="2509.7" y="1288.6">Membership</text>
</g>
</svg></body></html>
